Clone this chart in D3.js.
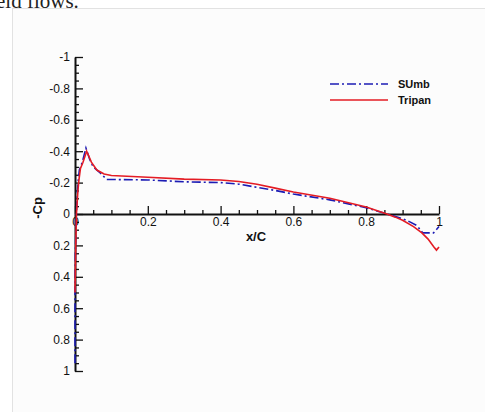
<!DOCTYPE html>
<html>
<head>
<meta charset="utf-8">
<script src="https://cdn.jsdelivr.net/npm/d3@7"></script>
<style>
  body { margin: 0; background: #fff; }
  svg { display: block; }
</style>
</head>
<body>
<svg width="485" height="412"></svg>
<script>
// chord position and pressure coefficient
var sumbX  = [0, 0, 0.001, 0.003, 0.006, 0.009, 0.012, 0.02, 0.03, 0.04, 0.05, 0.07, 0.087, 0.2, 0.3, 0.4, 0.45, 0.5, 0.55, 0.6, 0.7, 0.8, 0.857, 0.9, 0.92, 0.94, 0.955, 0.985, 1.0];
var sumbCp = [0.95, 0.5, 0.25, 0.05, -0.12, -0.22, -0.28, -0.33, -0.42, -0.35, -0.3, -0.26, -0.22, -0.217, -0.205, -0.2, -0.19, -0.17, -0.15, -0.127, -0.09, -0.04, 0, 0.03, 0.05, 0.075, 0.12, 0.12, 0.08];

var tripanX  = [0, 0.002, 0.004, 0.008, 0.011, 0.015, 0.022, 0.032, 0.045, 0.06, 0.08, 0.1, 0.2, 0.3, 0.4, 0.45, 0.5, 0.55, 0.6, 0.7, 0.8, 0.857, 0.88, 0.9, 0.93, 0.953, 0.97, 0.986, 0.993, 1.0];
var tripanCp = [0.5, 0.2, 0, -0.15, -0.22, -0.29, -0.33, -0.4, -0.33, -0.28, -0.255, -0.245, -0.234, -0.222, -0.217, -0.207, -0.19, -0.165, -0.14, -0.1, -0.045, 0, 0.02, 0.04, 0.08, 0.12, 0.16, 0.21, 0.23, 0.21];

var xMajor = [0, 0.2, 0.4, 0.6, 0.8, 1];
var yMajor = [-1, -0.8, -0.6, -0.4, -0.2, 0, 0.2, 0.4, 0.6, 0.8, 1];
var minorStep = 0.05;

var seriesNames = ["SUmb", "Tripan"];
var colors = { SUmb: "#1c1cb4", Tripan: "#e41c24" };

var svg = d3.select("svg");

// page around the figure
svg.append("text")
    .attr("x", -4).attr("y", 8)
    .style("font-family", "'Liberation Serif', 'DejaVu Serif', serif")
    .style("font-size", "21px")
    .attr("fill", "#222")
    .text("eld flows.");

svg.append("rect")
    .attr("x", 12.5).attr("y", 8.5)
    .attr("width", 480).attr("height", 410)
    .attr("fill", "#fcfcfc")
    .attr("stroke", "#e2e2e2");

var x = d3.scaleLinear().domain([0, 1]).range([75, 439]);
var y = d3.scaleLinear().domain([-1, 1]).range([57, 371]);

var fmt = function(d) { return String(+d.toFixed(1)); };
var xMinor = d3.range(0, 1.0001, minorStep).filter(function(v) { return Math.abs(v * 5 - Math.round(v * 5)) > 1e-6; });
var yMinor = d3.range(-1, 1.0001, minorStep).filter(function(v) { return Math.abs(v * 5 - Math.round(v * 5)) > 1e-6; });

var g = svg.append("g");

// minor ticks
g.append("g")
    .attr("transform", "translate(0," + y(0) + ")")
    .call(d3.axisBottom(x).tickValues(xMinor).tickFormat("").tickSizeInner(-4).tickSizeOuter(0))
    .call(function(s) { s.select(".domain").remove(); });
g.append("g")
    .attr("transform", "translate(" + x(0) + ",0)")
    .call(d3.axisLeft(y).tickValues(yMinor).tickFormat("").tickSizeInner(-4).tickSizeOuter(0))
    .call(function(s) { s.select(".domain").remove(); });

var xAxis = g.append("g")
    .attr("transform", "translate(0," + y(0) + ")")
    .call(d3.axisBottom(x).tickValues(xMajor).tickFormat(fmt).tickSizeInner(-8).tickSizeOuter(0).tickPadding(3));
var yAxis = g.append("g")
    .attr("transform", "translate(" + x(0) + ",0)")
    .call(d3.axisLeft(y).tickValues(yMajor).tickFormat(fmt).tickSizeInner(-8).tickSizeOuter(0).tickPadding(5));

g.selectAll(".tick line").attr("stroke", "#111").attr("stroke-width", 1.3);
g.selectAll(".domain").attr("stroke", "#111").attr("stroke-width", 2);
g.selectAll(".tick text")
    .attr("fill", "#111")
    .style("font-family", "'Liberation Sans', Arial, sans-serif")
    .style("font-size", "12px");

// curves
var line = d3.line()
    .x(function(d) { return x(d[0]); })
    .y(function(d) { return y(d[1]); });

var sumb = d3.zip(sumbX, sumbCp);
var tripan = d3.zip(tripanX, tripanCp);

svg.append("path")
    .datum(sumb)
    .attr("d", line)
    .attr("fill", "none")
    .attr("stroke", colors.SUmb)
    .attr("stroke-width", 1.6)
    .attr("stroke-dasharray", "9,3,2,3");

svg.append("path")
    .datum(tripan)
    .attr("d", line)
    .attr("fill", "none")
    .attr("stroke", colors.Tripan)
    .attr("stroke-width", 1.6);

// axis titles
svg.append("text")
    .attr("x", 256).attr("y", 241)
    .attr("text-anchor", "middle")
    .style("font-family", "'Liberation Sans', Arial, sans-serif")
    .style("font-size", "13px")
    .style("font-weight", "bold")
    .attr("fill", "#111")
    .text("x/C");

svg.append("text")
    .attr("transform", "translate(42,208) rotate(-90)")
    .attr("text-anchor", "middle")
    .style("font-family", "'Liberation Sans', Arial, sans-serif")
    .style("font-size", "13px")
    .style("font-weight", "bold")
    .attr("fill", "#111")
    .text("-Cp");

// legend
var legend = svg.append("g").attr("transform", "translate(330,84)");
seriesNames.forEach(function(name, i) {
  var row = legend.append("g").attr("transform", "translate(0," + (i * 16) + ")");
  row.append("line")
      .attr("x1", 0).attr("x2", 58)
      .attr("stroke", colors[name])
      .attr("stroke-width", 1.6)
      .attr("stroke-dasharray", name === "SUmb" ? "9,3,2,3" : null);
  row.append("text")
      .attr("x", 68).attr("y", 4)
      .style("font-family", "'Liberation Sans', Arial, sans-serif")
      .style("font-size", "11px")
      .style("font-weight", "bold")
      .attr("fill", "#111")
      .text(name);
});
</script>
</body>
</html>
